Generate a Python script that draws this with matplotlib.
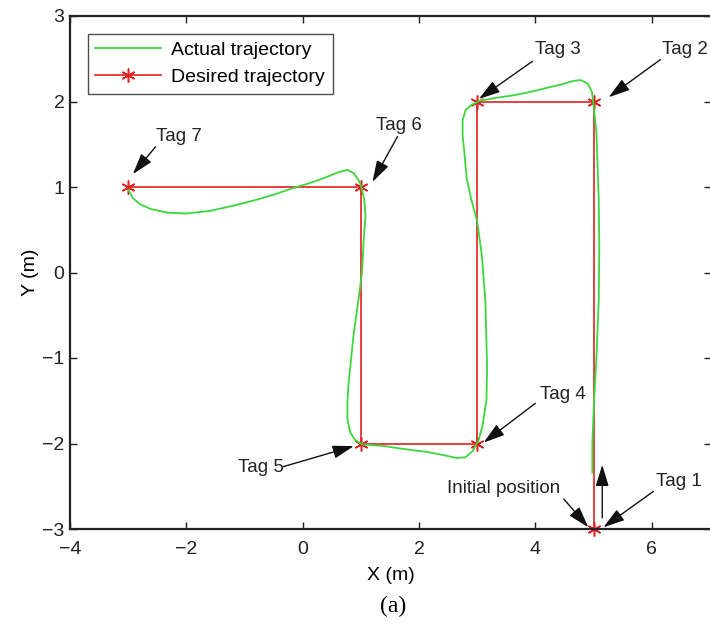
import matplotlib
matplotlib.use("Agg")
import matplotlib.pyplot as plt

plt.rcParams['font.family'] = ['Liberation Sans', 'DejaVu Sans']

# Desired trajectory (tags)
desired_x = [5, 5, 3, 3, 1, 1, -3]
desired_y = [-3, 2, 2, -2, -2, 1, 1]

# Actual trajectory
actual_x = [4.98, 4.98, 5.01, 5.05, 5.09, 5.10, 5.09, 5.05, 5.00, 4.97, 4.90, 4.78,
            4.65, 4.45, 4.20, 3.90, 3.60, 3.30, 3.05, 2.90, 2.80, 2.75, 2.75, 2.78,
            2.82, 2.90, 3.00, 3.08, 3.14, 3.17, 3.16, 3.09, 3.02, 2.92, 2.80, 2.65,
            2.45, 2.15, 1.80, 1.40, 1.03, 0.90, 0.82, 0.77, 0.77, 0.79, 0.88, 0.96,
            1.02, 1.05, 1.08, 1.06, 1.01, 0.96, 0.88, 0.77, 0.60, 0.35, 0.05, -0.20,
            -0.50, -0.85, -1.20, -1.60, -2.00, -2.32, -2.60, -2.80, -2.92, -3.00]
actual_y = [-2.34, -2.00, -1.50, -1.00, -0.32, 0.30, 0.85, 1.64, 1.97, 2.12, 2.21, 2.25,
            2.24, 2.20, 2.16, 2.11, 2.07, 2.04, 2.01, 1.96, 1.90, 1.78, 1.60, 1.40,
            1.10, 0.85, 0.60, 0.20, -0.32, -1.10, -1.49, -1.80, -1.97, -2.09, -2.16, -2.17,
            -2.14, -2.10, -2.07, -2.03, -2.01, -1.96, -1.87, -1.72, -1.50, -1.29, -0.70, -0.32,
            0.00, 0.39, 0.66, 0.85, 1.00, 1.08, 1.16, 1.20, 1.17, 1.10, 1.03, 0.98,
            0.91, 0.84, 0.78, 0.72, 0.69, 0.70, 0.74, 0.80, 0.87, 0.97]

# Annotations: label, text position, arrow tail, arrow head
ann_labels = ["Tag 7", "Tag 6", "Tag 3", "Tag 2", "Tag 4", "Tag 5", "Initial position", "Tag 1"]
ann_text_xy = [(-2.13, 1.59), (1.65, 1.72), (4.38, 2.61), (6.18, 2.61),
               (4.47, -1.43), (-0.72, -2.28), (3.46, -2.53), (6.46, -2.44)]
ann_tail_xy = [(-2.53, 1.47), (1.63, 1.59), (3.95, 2.47), (6.15, 2.49),
               (4.00, -1.53), (-0.33, -2.27), (4.49, -2.65), (6.03, -2.56)]
ann_head_xy = [(-2.92, 1.15), (1.20, 1.06), (3.03, 2.03), (5.26, 2.05),
               (3.11, -1.99), (0.88, -2.03), (4.91, -2.98), (5.17, -2.98)]
heading_tail = (5.15, -2.87)
heading_head = (5.15, -2.25)

fig = plt.figure(figsize=(7.10, 6.28), dpi=100)
ax = fig.add_axes([70/710, 99/628, 641/710, 513/628])

ax.plot(actual_x, actual_y, color='#3dd63d', lw=1.3, label='Actual trajectory', zorder=3)
ax.plot(desired_x, desired_y, color='#e02020', lw=1.2, marker=(6, 2, 0), markersize=10,
        markeredgewidth=1.1, label='Desired trajectory', zorder=2, clip_on=False)

ax.set_xlim(-4, 7.02)
ax.set_ylim(-3, 3)
ax.set_xticks([-4, -2, 0, 2, 4, 6])
ax.set_yticks([-3, -2, -1, 0, 1, 2, 3])
ax.set_xticklabels(['\u22124', '\u22122', '0', '2', '4', '6'])
ax.set_yticklabels(['\u22123', '\u22122', '\u22121', '0', '1', '2', '3'])
ax.tick_params(direction='in', length=5, width=1, labelsize=14, colors='#222222',
               top=True, right=True)
ax.tick_params(axis='x', pad=9)
ax.tick_params(axis='y', pad=4)
for s in ax.spines.values():
    s.set_linewidth(1.6)
    s.set_color('#222222')
ax.spines['right'].set_visible(False)

ax.set_xlabel('X (m)', fontsize=14, labelpad=6)
ax.set_ylabel('Y (m)', fontsize=14, labelpad=2)

aprops = dict(arrowstyle='-|>,head_length=1.3,head_width=0.4', color='#111111',
              lw=1.0, shrinkA=0, shrinkB=0)
for lab, txy, tail, head in zip(ann_labels, ann_text_xy, ann_tail_xy, ann_head_xy):
    ax.annotate('', xy=head, xytext=tail, arrowprops=aprops, zorder=5)
    ha = 'left' if lab == 'Tag 2' else 'center'
    ax.text(txy[0], txy[1], lab, fontsize=13.5, ha=ha, va='center', color='#222222',
            clip_on=False)
ax.annotate('', xy=heading_head, xytext=heading_tail, arrowprops=aprops, zorder=5)

leg = ax.legend(loc='upper left', fontsize=14, frameon=True, fancybox=False,
                edgecolor='#222222', borderpad=0.4, handlelength=3.4,
                labelspacing=0.5, borderaxespad=0.9, handletextpad=0.5)
leg.get_frame().set_linewidth(1.0)

fig.text(393/710, 1 - 606/628, '(a)', fontsize=17, ha='center', va='center',
         family='Liberation Serif')

fig.savefig('out.png', dpi=100)
